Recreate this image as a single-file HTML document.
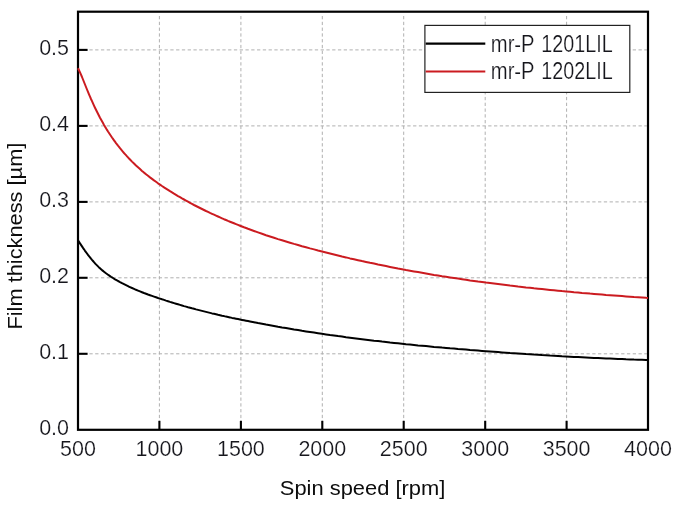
<!DOCTYPE html>
<html><head><meta charset="utf-8"><style>
html,body{margin:0;padding:0;background:#fff;width:677px;height:510px;overflow:hidden}
svg{display:block;will-change:transform}
text{font-family:"Liberation Sans",sans-serif}
.thin{fill:#16161c;stroke:#fff;stroke-width:0.2px}
.title{fill:#0c0c0c}
</style></head><body>
<svg width="677" height="510" viewBox="0 0 677 510">
<rect width="677" height="510" fill="#fff"/>
<g stroke="#b0b0b0" stroke-width="1" stroke-dasharray="3.3 2.48" fill="none"><line x1="159.4" y1="16" x2="159.4" y2="428.7"/><line x1="240.9" y1="16" x2="240.9" y2="428.7"/><line x1="322.3" y1="16" x2="322.3" y2="428.7"/><line x1="403.7" y1="16" x2="403.7" y2="428.7"/><line x1="485.2" y1="16" x2="485.2" y2="428.7"/><line x1="566.6" y1="16" x2="566.6" y2="428.7"/><line x1="89.4" y1="353.8" x2="646.9" y2="353.8"/><line x1="89.4" y1="277.8" x2="646.9" y2="277.8"/><line x1="89.4" y1="201.9" x2="646.9" y2="201.9"/><line x1="89.4" y1="125.9" x2="646.9" y2="125.9"/><line x1="89.4" y1="49.9" x2="646.9" y2="49.9"/></g>
<g stroke="#000" stroke-width="2.1"><line x1="159.4" y1="420.8" x2="159.4" y2="429.8"/><line x1="240.9" y1="420.8" x2="240.9" y2="429.8"/><line x1="322.3" y1="420.8" x2="322.3" y2="429.8"/><line x1="403.7" y1="420.8" x2="403.7" y2="429.8"/><line x1="485.2" y1="420.8" x2="485.2" y2="429.8"/><line x1="566.6" y1="420.8" x2="566.6" y2="429.8"/><line x1="78" y1="353.8" x2="87.6" y2="353.8"/><line x1="78" y1="277.8" x2="87.6" y2="277.8"/><line x1="78" y1="201.9" x2="87.6" y2="201.9"/><line x1="78" y1="125.9" x2="87.6" y2="125.9"/><line x1="78" y1="49.9" x2="87.6" y2="49.9"/></g>
<rect x="78" y="11.7" width="570" height="418.1" fill="none" stroke="#000" stroke-width="2.2"/>
<path d="M78.0,240.3 L79.0,241.8 L80.0,243.4 L81.0,244.9 L82.0,246.4 L83.0,247.9 L84.0,249.3 L85.0,250.8 L86.0,252.2 L87.0,253.5 L88.0,254.9 L89.0,256.2 L90.0,257.4 L91.0,258.7 L92.0,259.9 L93.0,261.0 L94.0,262.2 L95.0,263.3 L96.0,264.4 L97.0,265.4 L98.0,266.4 L99.0,267.4 L100.0,268.3 L101.0,269.2 L102.0,270.1 L103.0,270.9 L104.0,271.7 L105.0,272.5 L106.0,273.3 L107.0,274.0 L108.0,274.7 L109.0,275.4 L110.0,276.1 L111.0,276.8 L112.0,277.4 L113.0,278.0 L114.0,278.7 L115.0,279.3 L116.0,279.8 L117.0,280.4 L118.0,281.0 L119.0,281.5 L120.0,282.1 L121.0,282.6 L122.0,283.2 L123.0,283.7 L124.0,284.2 L125.0,284.7 L126.0,285.2 L127.0,285.7 L128.0,286.2 L129.0,286.7 L130.0,287.1 L132.0,288.0 L134.0,288.9 L136.0,289.8 L138.0,290.6 L140.0,291.4 L142.0,292.2 L144.0,293.0 L146.0,293.7 L148.0,294.5 L150.0,295.2 L152.0,295.9 L154.0,296.6 L156.0,297.3 L158.0,298.0 L160.0,298.6 L162.0,299.3 L164.0,299.9 L166.0,300.6 L168.0,301.2 L170.0,301.9 L172.0,302.5 L174.0,303.1 L176.0,303.7 L178.0,304.3 L180.0,304.9 L182.0,305.5 L184.0,306.1 L186.0,306.6 L188.0,307.2 L190.0,307.7 L192.0,308.3 L194.0,308.8 L196.0,309.4 L198.0,309.9 L200.0,310.4 L202.0,310.9 L204.0,311.4 L206.0,311.9 L208.0,312.4 L210.0,312.9 L212.0,313.4 L214.0,313.8 L216.0,314.3 L218.0,314.8 L220.0,315.2 L222.0,315.7 L224.0,316.1 L226.0,316.6 L228.0,317.0 L230.0,317.4 L232.0,317.9 L234.0,318.3 L236.0,318.7 L238.0,319.1 L240.0,319.5 L242.0,319.9 L244.0,320.3 L246.0,320.7 L248.0,321.1 L250.0,321.5 L254.0,322.3 L258.0,323.1 L262.0,323.8 L266.0,324.6 L270.0,325.3 L274.0,326.0 L278.0,326.8 L282.0,327.5 L286.0,328.1 L290.0,328.8 L294.0,329.5 L298.0,330.1 L302.0,330.8 L306.0,331.4 L310.0,332.0 L314.0,332.6 L318.0,333.2 L322.0,333.8 L326.0,334.4 L330.0,335.0 L334.0,335.5 L338.0,336.1 L342.0,336.6 L346.0,337.2 L350.0,337.7 L354.0,338.2 L358.0,338.7 L362.0,339.2 L366.0,339.7 L370.0,340.2 L374.0,340.7 L378.0,341.1 L382.0,341.6 L386.0,342.0 L390.0,342.5 L394.0,342.9 L398.0,343.3 L402.0,343.7 L406.0,344.2 L410.0,344.6 L414.0,345.0 L418.0,345.4 L422.0,345.7 L426.0,346.1 L430.0,346.5 L434.0,346.9 L438.0,347.2 L442.0,347.6 L446.0,347.9 L450.0,348.3 L454.0,348.6 L458.0,349.0 L462.0,349.3 L466.0,349.6 L470.0,350.0 L474.0,350.3 L478.0,350.6 L482.0,350.9 L486.0,351.2 L490.0,351.5 L494.0,351.8 L498.0,352.1 L502.0,352.4 L506.0,352.7 L510.0,353.0 L514.0,353.2 L518.0,353.5 L522.0,353.8 L526.0,354.1 L530.0,354.3 L534.0,354.6 L538.0,354.8 L542.0,355.1 L546.0,355.3 L550.0,355.6 L554.0,355.8 L558.0,356.0 L562.0,356.3 L566.0,356.5 L570.0,356.7 L574.0,356.9 L578.0,357.1 L582.0,357.3 L586.0,357.5 L590.0,357.7 L594.0,357.9 L598.0,358.1 L602.0,358.3 L606.0,358.5 L610.0,358.6 L614.0,358.8 L618.0,359.0 L622.0,359.1 L626.0,359.3 L630.0,359.4 L634.0,359.6 L638.0,359.7 L642.0,359.8 L646.0,359.9 L648.0,360.0" fill="none" stroke="#000" stroke-width="2" stroke-linejoin="round"/>
<path d="M78.0,68.3 L79.0,70.3 L80.0,72.4 L81.0,74.7 L82.0,77.0 L83.0,79.5 L84.0,82.0 L85.0,84.5 L86.0,87.0 L87.0,89.5 L88.0,91.9 L89.0,94.3 L90.0,96.6 L91.0,99.0 L92.0,101.2 L93.0,103.4 L94.0,105.6 L95.0,107.7 L96.0,109.8 L97.0,111.8 L98.0,113.8 L99.0,115.8 L100.0,117.7 L101.0,119.5 L102.0,121.3 L103.0,123.1 L104.0,124.9 L105.0,126.6 L106.0,128.2 L107.0,129.9 L108.0,131.5 L109.0,133.0 L110.0,134.5 L111.0,136.0 L112.0,137.5 L113.0,138.9 L114.0,140.3 L115.0,141.7 L116.0,143.1 L117.0,144.4 L118.0,145.7 L119.0,146.9 L120.0,148.2 L121.0,149.4 L122.0,150.6 L123.0,151.8 L124.0,153.0 L125.0,154.1 L126.0,155.2 L127.0,156.3 L128.0,157.4 L129.0,158.5 L130.0,159.5 L132.0,161.6 L134.0,163.5 L136.0,165.5 L138.0,167.3 L140.0,169.1 L142.0,170.9 L144.0,172.6 L146.0,174.2 L148.0,175.8 L150.0,177.4 L152.0,178.9 L154.0,180.4 L156.0,181.8 L158.0,183.3 L160.0,184.6 L162.0,186.0 L164.0,187.3 L166.0,188.6 L168.0,189.9 L170.0,191.2 L172.0,192.4 L174.0,193.7 L176.0,194.9 L178.0,196.1 L180.0,197.2 L182.0,198.4 L184.0,199.5 L186.0,200.6 L188.0,201.7 L190.0,202.8 L192.0,203.9 L194.0,205.0 L196.0,206.0 L198.0,207.0 L200.0,208.0 L202.0,209.0 L204.0,210.0 L206.0,211.0 L208.0,211.9 L210.0,212.9 L212.0,213.8 L214.0,214.7 L216.0,215.6 L218.0,216.5 L220.0,217.4 L222.0,218.3 L224.0,219.2 L226.0,220.0 L228.0,220.9 L230.0,221.7 L232.0,222.5 L234.0,223.3 L236.0,224.1 L238.0,224.9 L240.0,225.7 L242.0,226.5 L244.0,227.3 L246.0,228.0 L248.0,228.8 L250.0,229.5 L254.0,231.0 L258.0,232.4 L262.0,233.8 L266.0,235.2 L270.0,236.5 L274.0,237.8 L278.0,239.1 L282.0,240.3 L286.0,241.5 L290.0,242.7 L294.0,243.9 L298.0,245.0 L302.0,246.2 L306.0,247.3 L310.0,248.4 L314.0,249.4 L318.0,250.5 L322.0,251.5 L326.0,252.5 L330.0,253.5 L334.0,254.5 L338.0,255.5 L342.0,256.5 L346.0,257.4 L350.0,258.4 L354.0,259.3 L358.0,260.2 L362.0,261.1 L366.0,261.9 L370.0,262.8 L374.0,263.6 L378.0,264.5 L382.0,265.3 L386.0,266.1 L390.0,266.9 L394.0,267.7 L398.0,268.5 L402.0,269.2 L406.0,270.0 L410.0,270.7 L414.0,271.4 L418.0,272.1 L422.0,272.8 L426.0,273.5 L430.0,274.2 L434.0,274.9 L438.0,275.5 L442.0,276.2 L446.0,276.8 L450.0,277.4 L454.0,278.0 L458.0,278.6 L462.0,279.2 L466.0,279.8 L470.0,280.4 L474.0,280.9 L478.0,281.5 L482.0,282.0 L486.0,282.6 L490.0,283.1 L494.0,283.6 L498.0,284.1 L502.0,284.6 L506.0,285.1 L510.0,285.6 L514.0,286.0 L518.0,286.5 L522.0,286.9 L526.0,287.4 L530.0,287.8 L534.0,288.3 L538.0,288.7 L542.0,289.1 L546.0,289.5 L550.0,289.9 L554.0,290.3 L558.0,290.7 L562.0,291.1 L566.0,291.4 L570.0,291.8 L574.0,292.2 L578.0,292.5 L582.0,292.9 L586.0,293.2 L590.0,293.6 L594.0,293.9 L598.0,294.2 L602.0,294.5 L606.0,294.9 L610.0,295.2 L614.0,295.5 L618.0,295.8 L622.0,296.1 L626.0,296.4 L630.0,296.7 L634.0,297.0 L638.0,297.2 L642.0,297.5 L646.0,297.8 L648.0,297.9" fill="none" stroke="#cb1b20" stroke-width="2" stroke-linejoin="round"/>
<rect x="424.9" y="25.4" width="204.9" height="67" fill="#fff" stroke="#222" stroke-width="1.2"/>
<line x1="425.7" y1="43.6" x2="485.3" y2="43.6" stroke="#000" stroke-width="2.2"/>
<line x1="425.7" y1="71.5" x2="485.3" y2="71.5" stroke="#cb1b20" stroke-width="2.2"/>
<g class="thin" font-size="23.2">
<text transform="translate(490.8,51.6) scale(0.872,1)">mr-P</text>
<text transform="translate(541.3,51.6) scale(0.851,1)">1201LIL</text>
<text transform="translate(490.8,79.1) scale(0.872,1)">mr-P</text>
<text transform="translate(541.3,79.1) scale(0.851,1)">1202LIL</text>
</g>
<g class="thin" font-size="22.4"><text transform="translate(78.0,455.5) scale(0.96,1)" text-anchor="middle">500</text><text transform="translate(159.4,455.5) scale(0.96,1)" text-anchor="middle">1000</text><text transform="translate(240.9,455.5) scale(0.96,1)" text-anchor="middle">1500</text><text transform="translate(322.3,455.5) scale(0.96,1)" text-anchor="middle">2000</text><text transform="translate(403.7,455.5) scale(0.96,1)" text-anchor="middle">2500</text><text transform="translate(485.2,455.5) scale(0.96,1)" text-anchor="middle">3000</text><text transform="translate(566.6,455.5) scale(0.96,1)" text-anchor="middle">3500</text><text transform="translate(648.0,455.5) scale(0.96,1)" text-anchor="middle">4000</text><text transform="translate(69.0,435.1) scale(0.96,1)" text-anchor="end">0.0</text><text transform="translate(69.0,359.1) scale(0.96,1)" text-anchor="end">0.1</text><text transform="translate(69.0,283.1) scale(0.96,1)" text-anchor="end">0.2</text><text transform="translate(69.0,207.2) scale(0.96,1)" text-anchor="end">0.3</text><text transform="translate(69.0,131.2) scale(0.96,1)" text-anchor="end">0.4</text><text transform="translate(69.0,55.2) scale(0.96,1)" text-anchor="end">0.5</text></g>
<text class="title" x="279.8" y="494.8" font-size="20.8" textLength="165.5" lengthAdjust="spacingAndGlyphs">Spin speed [rpm]</text>
<text class="title" transform="translate(22.1,329.6) rotate(-90)" font-size="20.8" textLength="187" lengthAdjust="spacingAndGlyphs">Film thickness [µm]</text>
</svg>
</body></html>
